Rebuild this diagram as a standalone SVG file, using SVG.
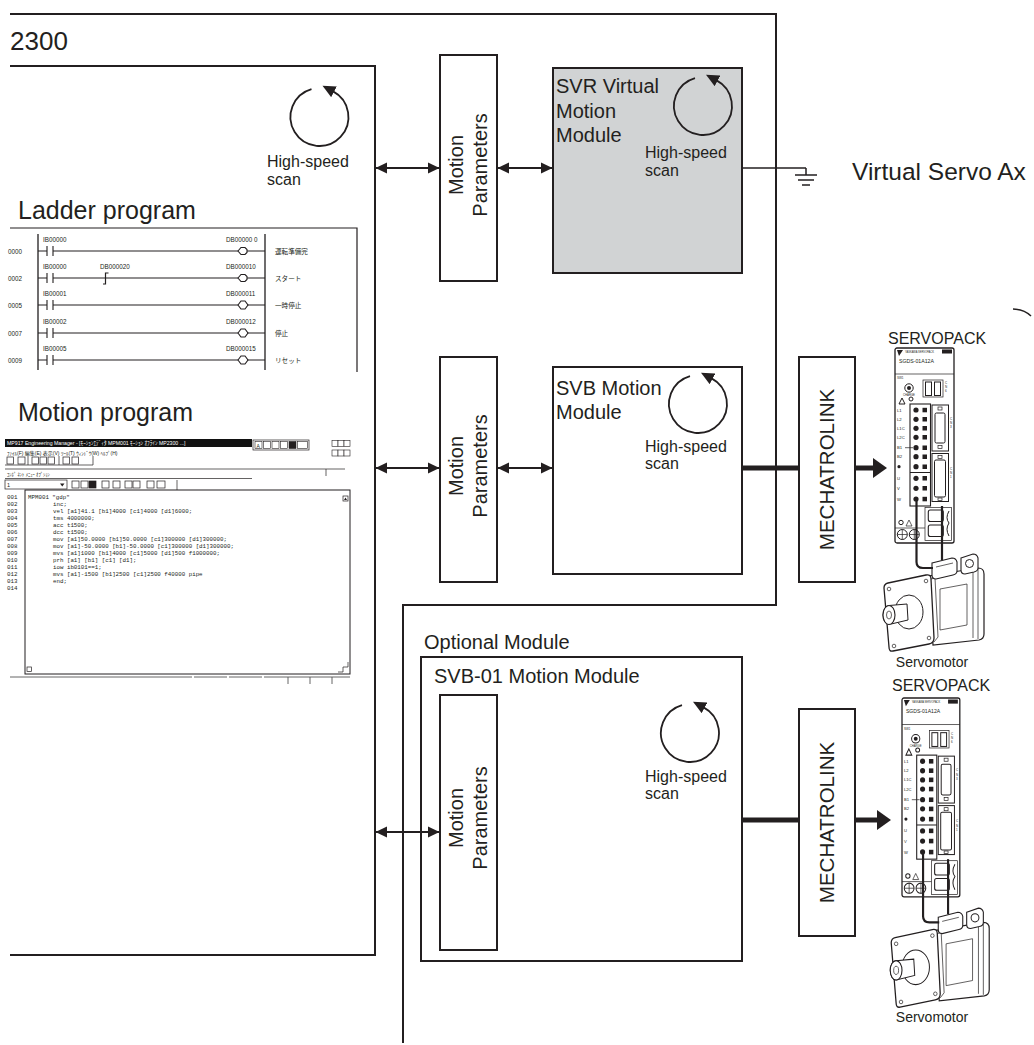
<svg xmlns="http://www.w3.org/2000/svg" width="1034" height="1045" viewBox="0 0 1034 1045">
<style>
.t{font-family:"Liberation Sans",Arial,Helvetica,sans-serif;fill:#231f20}
.jp{font-family:"Liberation Sans","Noto Sans CJK JP",sans-serif;fill:#231f20}
.ln{fill:none;stroke:#231f20;stroke-width:2}
.box{fill:#fff;stroke:#231f20;stroke-width:2}
.gray{fill:#d1d3d4;stroke:#231f20;stroke-width:2}
.thin{fill:none;stroke:#231f20;stroke-width:1}
.fine{fill:none;stroke:#231f20;stroke-width:0.7}
.dk{fill:#231f20}
.code{font-family:"Liberation Mono","DejaVu Sans Mono",monospace;fill:#231f20;font-size:5.8px}
.lad{font-family:"Liberation Sans",Arial,sans-serif;fill:#231f20;font-size:6.3px}
.conn{fill:none;stroke:#231f20;stroke-width:2}
.thick{fill:none;stroke:#231f20;stroke-width:5}
.sp{font-family:"Liberation Sans",Arial,sans-serif;fill:#231f20}
</style>
<defs>
<marker id="ah" markerUnits="userSpaceOnUse" markerWidth="12" markerHeight="12" viewBox="0 0 12 12" refX="11" refY="6" orient="auto-start-reverse"><path d="M0,0.5 L11.5,6 L0,11.5 z" fill="#231f20"/></marker>
<marker id="sa" markerUnits="userSpaceOnUse" markerWidth="14" markerHeight="12" viewBox="0 0 14 12" refX="1" refY="6" orient="auto"><path d="M0,0 L13,6 L0,12 z" fill="#231f20"/></marker>
<g id="scan"><path d="M-8,-27.9 A29,29 0 1 0 13.6,-25.6" fill="none" stroke="#231f20" stroke-width="1.8" marker-end="url(#sa)"/></g>
<g id="spk">
  <path d="M33,228 L83,220 Q89,220 89,226 L89,286 Q89,291 84,292 L38,297 Z" fill="#fff" stroke="#231f20" stroke-width="1.2"/>
  <path d="M45,241 L72,236 L72,277 L45,282 Z" class="fine"/>
  <path d="M78,222 V290 M83,221 V291" class="fine"/>
  <path d="M-7,235 L31,227 Q36,226 36,231 L39,290 Q39,295 34,296 L-2,303 Q-6,304 -6,299 L-11,240 Q-11,236 -7,235 Z" fill="#fff" stroke="#231f20" stroke-width="1.3"/>
  <path d="M36,231 L40,230 L43,289 L39,294" class="fine"/>
  <ellipse cx="14" cy="264" rx="14" ry="17" class="thin"/>
  <circle cx="-6" cy="241" r="1.8" class="fine"/><circle cx="31" cy="233" r="1.8" class="fine"/>
  <circle cx="34" cy="290" r="1.8" class="fine"/><circle cx="-1" cy="298" r="1.8" class="fine"/>
  <path d="M12,256 L-6,257.5 A6,9.5 0 0 0 -6,276.5 L13,272 Z" fill="#fff" stroke="#231f20" stroke-width="1"/>
  <ellipse cx="-6" cy="267" rx="6" ry="9.5" fill="#fff" stroke="#231f20" stroke-width="1.1"/>
  <ellipse cx="-6" cy="267" rx="2.5" ry="4" class="fine"/>
  <path d="M37,215 L57,210 Q61,210 62,214 L62,223 Q62,226 58,227 L41,231 Q37,231 37,227 Z" fill="#fff" stroke="#231f20" stroke-width="1.1"/>
  <path d="M41,219 L58,215" class="fine"/>
  <path d="M66,210 L78,206 Q82,206 83,210 L83,220 Q83,223 79,224 L70,226 Q66,226 66,222 Z" fill="#fff" stroke="#231f20" stroke-width="1.1"/>
  <circle cx="74.5" cy="215.5" r="4" class="thin"/>
  <rect x="0" y="0" width="59" height="195" rx="2" fill="#fff" stroke="#231f20" stroke-width="1.3"/>
  <path d="M2,2 H8 L4,8 Z" class="dk"/>
  <text x="10" y="5" class="sp" font-size="2.6">YASKAWA  SERVOPACK</text>
  <rect x="47" y="1.5" width="10" height="4" class="dk"/>
  <text x="4" y="15" class="sp" font-size="5.2">SGDS-01A12A</text>
  <line x1="0" y1="26" x2="59" y2="26" class="fine"/>
  <text x="2" y="31" class="sp" font-size="3">SW1</text>
  <circle cx="14" cy="40" r="4.2" fill="#fff" stroke="#231f20" stroke-width="1"/>
  <circle cx="14" cy="40" r="2" class="dk"/>
  <text x="8" y="48" class="sp" font-size="2.8">CHARGE</text>
  <path d="M4,56 L7,50 L10,56 Z" class="thin"/>
  <circle cx="16" cy="51" r="2" class="thin"/>
  <rect x="28" y="32" width="20" height="17" class="fine"/>
  <rect x="30.5" y="34" width="6" height="13.5" fill="#fff" stroke="#231f20" stroke-width="1"/>
  <rect x="39.5" y="34" width="6" height="13.5" fill="#fff" stroke="#231f20" stroke-width="1"/>
  <text x="50" y="36" class="sp" font-size="3">C</text><text x="50" y="40" class="sp" font-size="3">N</text><text x="50" y="44" class="sp" font-size="3">6</text>
  <rect x="15" y="56" width="20.5" height="102" fill="#fff" stroke="#231f20" stroke-width="1.1"/>
  <line x1="15" y1="124.5" x2="35.5" y2="124.5" class="thin"/>
  <g class="dk">
    <circle cx="21" cy="62" r="2.6"/><rect x="27.5" y="59.8" width="4.5" height="4.5"/>
    <circle cx="21" cy="71.3" r="2.6"/><rect x="27.5" y="69" width="4.5" height="4.5"/>
    <circle cx="21" cy="80.3" r="2.6"/><rect x="27.5" y="78" width="4.5" height="4.5"/>
    <circle cx="21" cy="89.3" r="2.6"/><rect x="27.5" y="87" width="4.5" height="4.5"/>
    <circle cx="21" cy="99.7" r="2.6"/><rect x="27.5" y="97.5" width="4.5" height="4.5"/>
    <circle cx="21" cy="108.7" r="2.6"/><rect x="27.5" y="106.5" width="4.5" height="4.5"/>
    <circle cx="21" cy="118.7" r="2.6"/><rect x="27.5" y="116.5" width="4.5" height="4.5"/>
    <circle cx="21" cy="130.3" r="2.6"/><rect x="27.5" y="128" width="4.5" height="4.5"/>
    <circle cx="21" cy="140.3" r="2.6"/><rect x="27.5" y="138" width="4.5" height="4.5"/>
    <circle cx="21" cy="151" r="2.6"/><rect x="27.5" y="148.8" width="4.5" height="4.5"/>
  </g>
  <g class="sp" font-size="4.2">
    <text x="2" y="63.5">L1</text><text x="2" y="72.8">L2</text><text x="2" y="81.8">L1C</text>
    <text x="2" y="90.8">L2C</text><text x="2" y="101.2">B1</text><text x="2" y="110.2">B2</text>
    <text x="2" y="131.8">U</text><text x="2" y="141.8">V</text><text x="2" y="152.5">W</text>
  </g>
  <circle cx="4" cy="118.7" r="1.6" class="dk"/>
  <line x1="10" y1="99.7" x2="18" y2="99.7" class="fine"/>
  <rect x="37" y="57" width="16.5" height="46" fill="#fff" stroke="#231f20" stroke-width="1"/>
  <rect x="40" y="65" width="10" height="30" rx="1.5" fill="#fff" stroke="#231f20" stroke-width="1"/>
  <rect x="43" y="59" width="4" height="3" class="fine"/><rect x="43" y="97.5" width="4" height="3" class="fine"/>
  <rect x="37" y="105.5" width="16.5" height="48" fill="#fff" stroke="#231f20" stroke-width="1"/>
  <rect x="39.5" y="112" width="11" height="37" rx="1.5" fill="#fff" stroke="#231f20" stroke-width="1"/>
  <rect x="43" y="107.5" width="4" height="3" class="fine"/><rect x="43" y="150" width="4" height="2.5" class="fine"/>
  <text x="55" y="72" class="sp" font-size="3">C</text><text x="55" y="76" class="sp" font-size="3">N</text><text x="55" y="80" class="sp" font-size="3">3</text>
  <text x="55" y="122" class="sp" font-size="3">C</text><text x="55" y="126" class="sp" font-size="3">N</text><text x="55" y="130" class="sp" font-size="3">1</text>
  <rect x="30" y="159.5" width="26.5" height="33" class="fine"/>
  <rect x="33.3" y="162" width="15" height="11.5" rx="2" fill="#fff" stroke="#231f20" stroke-width="1.1"/>
  <rect x="33.3" y="177" width="15" height="11.5" rx="2" fill="#fff" stroke="#231f20" stroke-width="1.1"/>
  <path d="M54,163 Q50,170 54,175 Q50,181 54,188" class="thin"/>
  <circle cx="6" cy="174.5" r="2.2" class="thin"/>
  <path d="M11,178 L14,172 L17,178 Z" class="fine"/>
  <line x1="0" y1="180" x2="30" y2="180" class="fine"/>
  <circle cx="7.3" cy="186.5" r="5" class="thin"/><path d="M2.3,186.5 H12.3 M7.3,181.5 V191.5" class="fine"/>
  <circle cx="19.3" cy="186.5" r="5" class="thin"/><path d="M14.3,186.5 H24.3 M19.3,181.5 V191.5" class="fine"/>
  <path d="M21.5,153 V214 Q21.5,220 28,220 H38" fill="none" stroke="#231f20" stroke-width="2.2"/>
  <path d="M47,158 V212" fill="none" stroke="#231f20" stroke-width="2.2"/>
</g>
</defs>

<g id="frame-2300">
  <path d="M10,14 H776 V605 H403 V1043" class="ln"/>
  <text x="10" y="50" class="t" font-size="26">2300</text>
</g>

<g id="cpu">
  <path d="M10,66 H375 V955 H10" class="ln"/>
  <use href="#scan" transform="translate(319.5,117)"/>
  <text class="t" font-size="16"><tspan x="267" y="167">High-speed</tspan><tspan x="267" y="185">scan</tspan></text>
</g>

<g id="ladder-program">
  <text x="18" y="219" class="t" font-size="25">Ladder program</text>
  <path d="M10,228 H357 V372" fill="none" stroke="#231f20" stroke-width="1.2"/>
  <path d="M38,234 V370 M265,234 V370" fill="none" stroke="#231f20" stroke-width="1.3"/>
  <g fill="none" stroke="#231f20" stroke-width="1.1">
    <path d="M38,251 H47 M47,246 V256 M53,246 V256 M53,251 H238 M247,251 H265"/>
    <path d="M238,251 L241,247.5 H245 L247,249.5 V252.5 L245,254.5 H241 Z"/>
    <path d="M38,278 H47 M47,273 V283 M53,273 V283 M53,278 H238 M247,278 H265"/>
    <path d="M103,284 H105.5 V273 H108.5" stroke-width="1.2"/>
    <path d="M238,278 L241,274.5 H245 L247,276.5 V279.5 L245,281.5 H241 Z"/>
    <path d="M38,305 H47 M47,300 V310 M53,300 V310 M53,305 H238 M247,305 H265"/>
    <path d="M238,305 L241,301 H245 L248,305 L245,309 H241 Z"/>
    <path d="M38,333 H47 M47,328 V338 M53,328 V338 M53,333 H238 M247,333 H265"/>
    <path d="M238,333 L241,329 H245 L248,333 L245,337 H241 Z"/>
    <path d="M38,360 H47 M47,355 V365 M53,355 V365 M53,360 H238 M247,360 H265"/>
    <path d="M238,360 L241,356 H245 L248,360 L245,364 H241 Z"/>
  </g>
  <g class="lad">
    <text x="8" y="253.5">0000</text><text x="43" y="242">IB00000</text><text x="226" y="242">DB00000 0</text>
    <text x="8" y="280.5">0002</text><text x="43" y="269">IB00000</text><text x="100" y="269">DB000020</text><text x="226" y="269">DB000010</text>
    <text x="8" y="307.5">0005</text><text x="43" y="296">IB00001</text><text x="226" y="296">DB000011</text>
    <text x="8" y="335.5">0007</text><text x="43" y="324">IB00002</text><text x="226" y="324">DB000012</text>
    <text x="8" y="362.5">0009</text><text x="43" y="351">IB00005</text><text x="226" y="351">DB000015</text>
  </g>
  <g class="jp" font-size="6.6">
    <text x="275" y="253.5">運転準備完</text>
    <text x="275" y="280.5">スタート</text>
    <text x="275" y="307.5">一時停止</text>
    <text x="275" y="335.5">停止</text>
    <text x="275" y="362.5">リセット</text>
  </g>
</g>

<g id="motion-program">
  <text x="18" y="421" class="t" font-size="25">Motion program</text>
  <rect x="5" y="439" width="247" height="8" fill="#111"/>
  <text x="7" y="445.3" class="jp" font-size="5.2" style="fill:#fff">MP917 Engineering Manager - [ﾓｰｼｮﾝｴﾃﾞｨﾀ  MPM001  ﾓｰｼｮﾝ  ｵﾌﾗｲﾝ  MP2300  ...]</text>
  <rect x="253" y="440" width="56" height="10" fill="#fff" stroke="#231f20" stroke-width="0.7"/>
  <g fill="#fff" stroke="#231f20" stroke-width="0.6">
    <rect x="255" y="441.5" width="7" height="7"/><rect x="263.5" y="441.5" width="7" height="7"/>
    <rect x="272" y="441.5" width="7" height="7"/><rect x="280.5" y="441.5" width="7" height="7"/>
    <rect x="289" y="441.5" width="7" height="7" fill="#231f20"/><rect x="297.5" y="441.5" width="10" height="7"/>
  </g>
  <text x="256.5" y="447.5" class="sp" font-size="5">A</text>
  <g fill="#fff" stroke="#231f20" stroke-width="0.6">
    <rect x="332" y="440.5" width="6" height="6"/><rect x="338" y="440.5" width="6" height="6"/><rect x="344" y="440.5" width="6" height="6"/>
    <rect x="332" y="450" width="6" height="6"/><rect x="338" y="450" width="6" height="6"/><rect x="344" y="450" width="6" height="6"/>
  </g>
  <text x="7" y="455" class="jp" font-size="5">ﾌｧｲﾙ(F)  編集(E)  表示(V)  ﾂｰﾙ(T)  ｳｨﾝﾄﾞｳ(W)  ﾍﾙﾌﾟ(H)</text>
  <g fill="#fff" stroke="#231f20" stroke-width="0.7">
    <rect x="7" y="457" width="6.5" height="7"/><rect x="18" y="457" width="7" height="7"/>
    <rect x="32" y="457" width="6.5" height="7"/><rect x="40" y="457" width="6.5" height="7"/><rect x="48" y="457" width="6.5" height="7"/>
    <rect x="63" y="457" width="6.5" height="7"/><rect x="72" y="457" width="6.5" height="7"/>
  </g>
  <path d="M5,465 H93 V456 M28,456 V465 M59,456 V465" class="fine"/>
  <path d="M5,469 H345 M326,469 V476" class="fine"/>
  <text x="7" y="476" class="jp" font-size="4.6">ｺﾝﾎﾟ ﾈﾝﾄ  ﾒﾆｭｰ  ｵﾌﾟｼｮﾝ</text>
  <path d="M5,478.5 H252" class="fine"/>
  <rect x="5" y="480" width="62" height="9" fill="#fff" stroke="#231f20" stroke-width="0.7"/>
  <text x="7" y="487" class="sp" font-size="5.5">1</text>
  <path d="M60,483.5 H64.5 L62.25,486.5 Z" class="dk"/>
  <g fill="#fff" stroke="#231f20" stroke-width="0.7">
    <rect x="72" y="481" width="7" height="7"/><rect x="81" y="481" width="7" height="7"/><rect x="89" y="481" width="7" height="7" fill="#231f20"/>
    <rect x="102" y="481" width="7" height="7"/><rect x="113" y="481" width="7" height="7"/>
    <rect x="125" y="481" width="7" height="7"/><rect x="133" y="481" width="7" height="7"/>
    <rect x="147" y="481" width="7" height="7"/><rect x="157" y="481" width="8" height="7"/>
  </g>
  <path d="M177,480 V490" class="fine"/>
  <rect x="25" y="490" width="325" height="184" fill="#fff" stroke="#231f20" stroke-width="1"/>
  <rect x="343" y="496" width="5" height="5" class="fine"/><path d="M344,500 L345.5,497.5 L347,500 Z" class="dk"/>
  <rect x="27" y="667" width="4.5" height="4.5" class="fine"/>
  <path d="M338,672 H343 V667 H348 V662" class="fine"/>
  <g class="code">
    <text x="7" y="499">001</text><text x="28" y="499">MPM001 "gdp"</text>
    <text x="7" y="506">002</text><text x="53" y="506">inc;</text>
    <text x="7" y="513">003</text><text x="53" y="513">vel [a1]41.1 [b1]4000 [c1]4000 [d1]6000;</text>
    <text x="7" y="520">004</text><text x="53" y="520">tms 4000000;</text>
    <text x="7" y="527">005</text><text x="53" y="527">acc t1500;</text>
    <text x="7" y="534">006</text><text x="53" y="534">dcc t1500;</text>
    <text x="7" y="541">007</text><text x="53" y="541">mov [a1]50.0000 [b1]50.0000 [c1]300000 [d1]300000;</text>
    <text x="7" y="548">008</text><text x="53" y="548">mov [a1]-50.0000 [b1]-50.0000 [c1]300000 [d1]300000;</text>
    <text x="7" y="555">009</text><text x="53" y="555">mvs [a1]1000 [b1]4000 [c1]5000 [d1]500 f1000000;</text>
    <text x="7" y="562">010</text><text x="53" y="562">prh [a1] [b1] [c1] [d1];</text>
    <text x="7" y="569">011</text><text x="53" y="569">iow ib0101==1;</text>
    <text x="7" y="576">012</text><text x="53" y="576">mvs [a1]-1500 [b1]2500 [c1]2500 f40000 pipe</text>
    <text x="7" y="583">013</text><text x="53" y="583">end;</text>
    <text x="7" y="590">014</text>
  </g>
  <path d="M10,677 H192 M194,677 H227 M229,677 H262 M264,677 H350 M288,677 V684 M310,677 V684 M332,677 V684" fill="none" stroke="#555" stroke-width="0.9"/>
</g>

<g id="mp1">
  <rect x="440" y="55" width="57" height="226" class="box"/>
  <text class="t" font-size="20" text-anchor="middle" transform="translate(468.5,165) rotate(-90)"><tspan x="0" y="-6">Motion</tspan><tspan x="0" y="18">Parameters</tspan></text>
</g>
<g id="svr">
  <rect x="553" y="68" width="189" height="205" class="gray"/>
  <text class="t" font-size="20"><tspan x="556" y="93">SVR Virtual</tspan><tspan x="556" y="117.5">Motion</tspan><tspan x="556" y="142">Module</tspan></text>
  <use href="#scan" transform="translate(703,106)"/>
  <text class="t" font-size="16"><tspan x="645" y="158">High-speed</tspan><tspan x="645" y="176">scan</tspan></text>
</g>
<g id="virtual-axis">
  <path d="M806,168 V175 M795,175 H817 M798,180 H814 M802,185 H810" fill="none" stroke="#231f20" stroke-width="1.5"/>
  <text x="852" y="180" class="t" font-size="24.5">Virtual Servo Ax</text>
</g>

<g id="mp2">
  <rect x="440" y="357" width="57" height="225" class="box"/>
  <text class="t" font-size="20" text-anchor="middle" transform="translate(468.5,466) rotate(-90)"><tspan x="0" y="-6">Motion</tspan><tspan x="0" y="18">Parameters</tspan></text>
</g>
<g id="svb">
  <rect x="553" y="367" width="189" height="207" class="box"/>
  <text class="t" font-size="20"><tspan x="556" y="395">SVB Motion</tspan><tspan x="556" y="419">Module</tspan></text>
  <use href="#scan" transform="translate(698,404)"/>
  <text class="t" font-size="16"><tspan x="645" y="452">High-speed</tspan><tspan x="645" y="469">scan</tspan></text>
</g>
<g id="mechatrolink1">
  <rect x="799" y="357" width="56" height="225" class="box"/>
  <text class="t" font-size="20.5" text-anchor="middle" transform="translate(827,469.5) rotate(-90)" x="0" y="7">MECHATROLINK</text>
</g>
<g id="servopack1">
  <text x="888" y="344" class="t" font-size="16">SERVOPACK</text>
  <use href="#spk" transform="translate(895,348)"/>
  <text x="932" y="667" class="t" font-size="14" text-anchor="middle">Servomotor</text>
</g>

<g id="optional-module">
  <text x="424" y="649" class="t" font-size="20">Optional Module</text>
  <rect x="421" y="657" width="321" height="304" class="box"/>
  <text x="434" y="683" class="t" font-size="20">SVB-01 Motion Module</text>
  <use href="#scan" transform="translate(690,733)"/>
  <text class="t" font-size="16"><tspan x="645" y="782">High-speed</tspan><tspan x="645" y="799">scan</tspan></text>
</g>
<g id="mp3">
  <rect x="440" y="695" width="57" height="255" class="box"/>
  <text class="t" font-size="20" text-anchor="middle" transform="translate(468.5,818) rotate(-90)"><tspan x="0" y="-6">Motion</tspan><tspan x="0" y="18">Parameters</tspan></text>
</g>
<g id="mechatrolink2">
  <rect x="799" y="709" width="56" height="227" class="box"/>
  <text class="t" font-size="20.5" text-anchor="middle" transform="translate(827,822.5) rotate(-90)" x="0" y="7">MECHATROLINK</text>
</g>
<g id="servopack2">
  <text x="892" y="691" class="t" font-size="16">SERVOPACK</text>
  <use href="#spk" transform="translate(902,698) scale(0.98,1.02)"/>
  <text x="932" y="1022" class="t" font-size="14" text-anchor="middle">Servomotor</text>
</g>

<g id="connectors">
  <line x1="376" y1="168" x2="439" y2="168" class="conn" marker-start="url(#ah)" marker-end="url(#ah)"/>
  <line x1="498" y1="168" x2="552" y2="168" class="conn" marker-start="url(#ah)" marker-end="url(#ah)"/>
  <line x1="376" y1="468" x2="439" y2="468" class="conn" marker-start="url(#ah)" marker-end="url(#ah)"/>
  <line x1="498" y1="468" x2="552" y2="468" class="conn" marker-start="url(#ah)" marker-end="url(#ah)"/>
  <line x1="376" y1="832" x2="439" y2="832" class="conn" marker-start="url(#ah)" marker-end="url(#ah)"/>
  <line x1="743" y1="168" x2="806" y2="168" fill="none" stroke="#231f20" stroke-width="1.5"/>
  <line x1="743" y1="468" x2="799" y2="468" class="thick"/>
  <line x1="856" y1="468" x2="874" y2="468" class="thick"/>
  <path d="M873,458 L887,468 L873,478 Z" class="dk"/>
  <line x1="743" y1="820" x2="799" y2="820" class="thick"/>
  <line x1="856" y1="820" x2="878" y2="820" class="thick"/>
  <path d="M877,810 L891,820 L877,830 Z" class="dk"/>
</g>
<path id="edge-arc" d="M1013,309 Q1024,309 1031,316" fill="none" stroke="#231f20" stroke-width="1.5"/>
</svg>
